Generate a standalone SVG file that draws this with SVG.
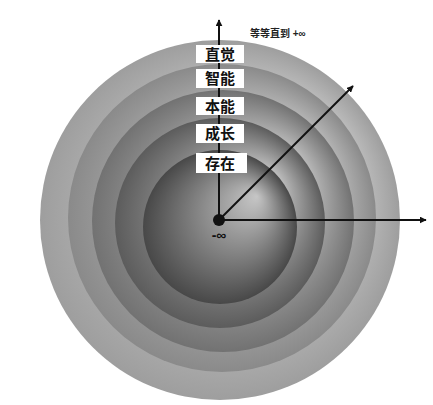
<svg xmlns="http://www.w3.org/2000/svg" width="433" height="405" viewBox="0 0 433 405">
<style>
.lbl{fill:#fff;}
.lt{font-family:"Liberation Sans","Noto Sans CJK SC",sans-serif;font-size:15px;font-weight:bold;fill:#111;text-anchor:middle;}
.ax{stroke:#111;stroke-width:2;fill:none;}
</style>
<defs>
<radialGradient id="g1" cx="0.5" cy="0.5" r="0.5" fx="0.74" fy="0.3">
<stop offset="0" stop-color="#ebebeb"/><stop offset="0.2" stop-color="#dedede"/><stop offset="1" stop-color="#9e9e9e"/></radialGradient>
<radialGradient id="g2" cx="0.5" cy="0.5" r="0.5" fx="0.74" fy="0.3">
<stop offset="0" stop-color="#e8e8e8"/><stop offset="0.2" stop-color="#d8d8d8"/><stop offset="1" stop-color="#8a8a8a"/></radialGradient>
<radialGradient id="g3" cx="0.5" cy="0.5" r="0.5" fx="0.74" fy="0.3">
<stop offset="0" stop-color="#e2e2e2"/><stop offset="0.2" stop-color="#cfcfcf"/><stop offset="1" stop-color="#727272"/></radialGradient>
<radialGradient id="g4" cx="0.5" cy="0.5" r="0.5" fx="0.74" fy="0.3">
<stop offset="0" stop-color="#d6d6d6"/><stop offset="0.2" stop-color="#c0c0c0"/><stop offset="1" stop-color="#5c5c5c"/></radialGradient>
<radialGradient id="g5" cx="0.5" cy="0.5" r="0.5" fx="0.74" fy="0.3">
<stop offset="0" stop-color="#c6c6c6"/><stop offset="0.2" stop-color="#adadad"/><stop offset="1" stop-color="#484848"/></radialGradient>
<marker id="ah" viewBox="0 0 10 10" refX="9" refY="5" markerWidth="7" markerHeight="7" orient="auto" markerUnits="userSpaceOnUse">
<path d="M0,0 L10,5 L0,10 z" fill="#111"/></marker>
</defs>
<rect width="433" height="405" fill="#fff"/>
<g id="rings">
<circle cx="220" cy="220" r="180" fill="url(#g1)"/>
<circle cx="222" cy="218" r="154" fill="url(#g2)"/>
<circle cx="223" cy="221" r="131" fill="url(#g3)"/>
<circle cx="220" cy="223" r="105" fill="url(#g4)"/>
<circle cx="220" cy="227" r="77" fill="url(#g5)"/>
</g>
<g id="connectors">
<line class="ax" x1="219" y1="220" x2="219" y2="20" marker-end="url(#ah)"/>
<line class="ax" x1="219" y1="220" x2="353" y2="86" marker-end="url(#ah)"/>
<line class="ax" x1="219" y1="220" x2="426" y2="220" marker-end="url(#ah)"/>
</g>
<g id="n-zhijue"><rect class="lbl" x="196" y="45" width="48" height="18"/><text class="lt" x="220" y="60">直觉</text></g>
<g id="n-zhineng"><rect class="lbl" x="196" y="69" width="48" height="19"/><text class="lt" x="220" y="84">智能</text></g>
<g id="n-benneng"><rect class="lbl" x="196" y="97" width="48" height="18"/><text class="lt" x="220" y="112">本能</text></g>
<g id="n-chengzhang"><rect class="lbl" x="196" y="124" width="48" height="19"/><text class="lt" x="220" y="139">成长</text></g>
<g id="n-cunzai"><rect class="lbl" x="196" y="153" width="51" height="20"/><text class="lt" x="220" y="169">存在</text></g>
<g id="n-origin"><circle cx="219" cy="220" r="6" fill="#111"/>
<text x="219" y="240" font-family="Liberation Sans,sans-serif" font-size="14" font-weight="bold" fill="#111" text-anchor="middle">-∞</text></g>
<g id="n-top"><text x="250" y="37" font-family="Liberation Sans,'Noto Sans CJK SC',sans-serif" font-size="10" font-weight="bold" fill="#222">等等直到 +∞</text></g>
</svg>
